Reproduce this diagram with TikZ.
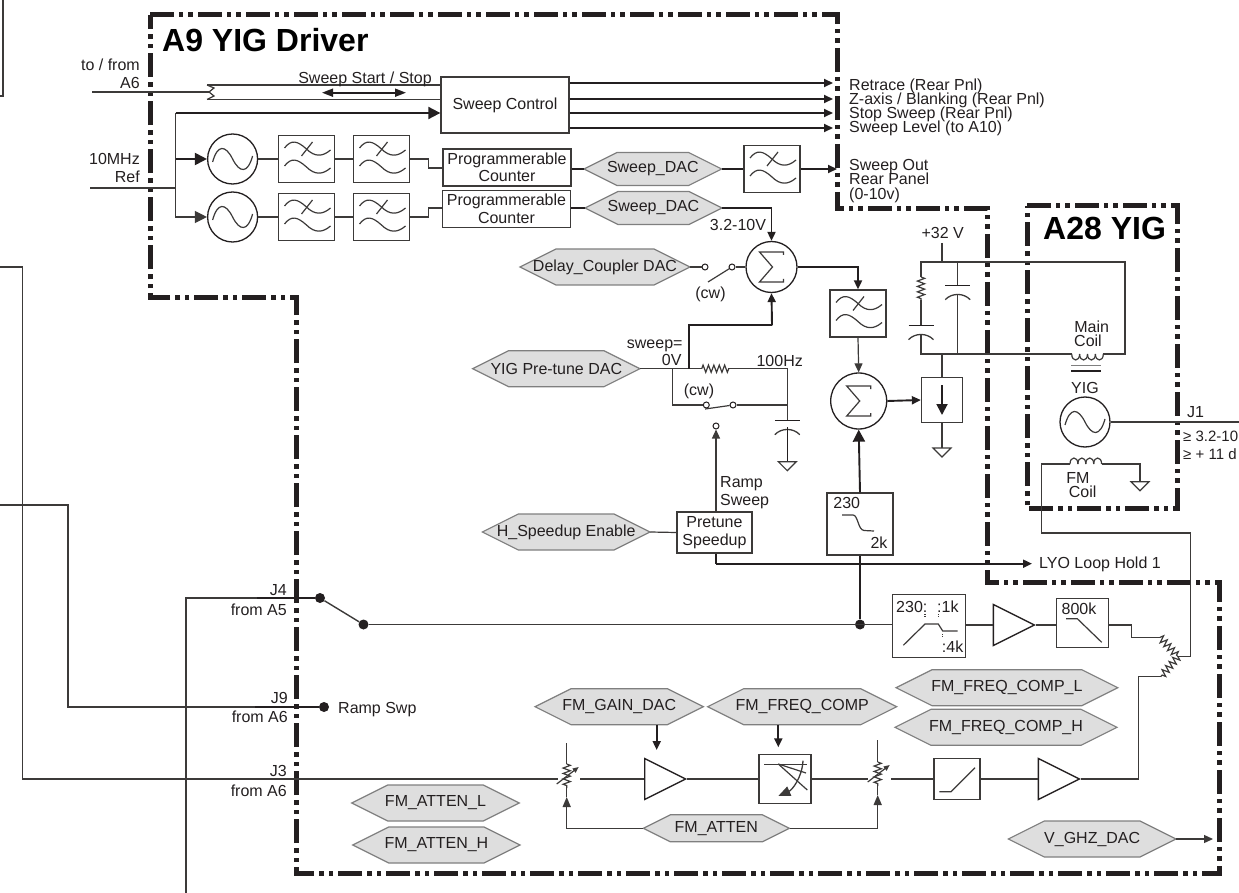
\documentclass[tikz,border=0pt]{standalone}
\usepackage{fontspec}
\setmainfont{Liberation Sans}
\usepackage{tikz}
\usetikzlibrary{arrows.meta}
\usetikzlibrary{shapes.geometric}
\usetikzlibrary{decorations.pathmorphing}
\definecolor{inkcol}{HTML}{231F20}
\definecolor{wirecol}{HTML}{3C3A39}
\definecolor{hexfill}{HTML}{DEDEDE}
\definecolor{hexline}{HTML}{7F7F7F}
\tikzset{
  wire/.style={draw=wirecol,line width=1.2pt},
  hvy/.style={draw=inkcol,line width=1.9pt},
  frame/.style={draw=inkcol,line width=5pt,line join=miter,dash pattern=on 24pt off 5pt on 4pt off 5pt on 5pt off 5pt},
  arr/.style={-{Triangle[length=9pt,width=8pt]}},
  bigarr/.style={-{Triangle[length=12pt,width=12pt]}},
  lbl/.style={inner sep=0pt,text height=11.5pt,text depth=0pt,text=inkcol,font=\fontsize{16}{18}\selectfont},
  title/.style={inner sep=0pt,text=black,font=\fontsize{32}{34}\bfseries\selectfont},
  blockbox/.style={draw=wirecol,line width=1.3pt,fill=white,inner sep=0pt,text=inkcol,align=center,font=\fontsize{16}{18}\selectfont},
  filtbox/.style={blockbox,minimum width=56pt,minimum height=47pt},
  roundblk/.style={circle,draw=inkcol,line width=1.3pt,fill=white,inner sep=0pt},
  hexshape/.style={draw=hexline,line width=1.2pt,fill=hexfill},
  hexlabel/.style={inner sep=0pt,text=inkcol,font=\fontsize{16}{18}\selectfont},
  amp/.style={isosceles triangle,isosceles triangle stretches,draw=inkcol,line width=1.3pt,fill=white,inner sep=0pt,minimum width=41pt,minimum height=41pt,anchor=lower side},
  tiny/.style={circle,draw=inkcol,line width=1pt,fill=white,inner sep=0pt,minimum size=6pt},
  blob/.style={circle,fill=inkcol,inner sep=0pt,minimum size=10pt},
  res/.style={decorate,decoration={zigzag,segment length=5.4pt,amplitude=3.6pt}},
  coilarc/.pic={\foreach \k in {0,1,2,3} \draw[wire] (\k*7.9,0) .. controls (\k*7.9,#1) and (\k*7.9+7.9,#1) .. (\k*7.9+7.9,0);},
  sinewave/.pic={\draw[wire] (-20,3) .. controls (-15,-15) and (-7,-14) .. (0,0) .. controls (7,14) and (15,15) .. (20,-3);},
  filtwave/.pic={
    \draw[wire] (-22,-11) .. controls (-15,-20) and (-9,-18) .. (0,-10) .. controls (8,-2) and (16,-2) .. (24,-9);
    \draw[wire] (-22,7) .. controls (-15,-2) and (-9,0) .. (0,8) .. controls (8,16) and (16,16) .. (24,9);
    \draw[wire] (-5,-3) -- (6,-17);},
  sigma/.pic={\draw[wire] (12,-12) -- (12,-15) -- (-12,-15) -- (1,0) -- (-12,15) -- (12,15) -- (12,12);},
  plate/.pic={
    \draw[hvy,line width=1.4pt] (-12.5,0) -- (12.5,0);
    \draw[wire,line width=1.3pt] (-12.5,14) .. controls (-6,7) and (6,7) .. (12.5,14);},
  trimpot/.pic={
    \draw[wire,res] (0,-12) -- (0,12);
    \draw[wire,-{Triangle[length=6pt,width=5pt]}] (-10,8) -- (12,-9);},
  earth/.pic={\draw[wire] (-9,0) -- (9,0) -- (0,9) -- cycle;}
}
\newcommand{\hexnode}[6]{%
  \filldraw[hexshape] (#2-#4/2,#3) -- (#2-#4/2+#5,#3-#5/2) -- (#2+#4/2-#5,#3-#5/2) -- (#2+#4/2,#3) -- (#2+#4/2-#5,#3+#5/2) -- (#2-#4/2+#5,#3+#5/2) -- cycle;
  \node[hexlabel,minimum width=#4pt,minimum height=#5pt] (#1) at (#2,#3) {#6};}
\begin{document}
\begin{tikzpicture}[x=1pt,y=-1pt]
\useasboundingbox (0,0) rectangle (1239,893);

\draw[frame] (150,15) -- (837,15) -- (837,209) -- (987,209) -- (987,582) -- (1219,582) -- (1219,873) -- (296,873) -- (296,297) -- (150,297) -- cycle;
\draw[frame] (1027,206) -- (1177,206) -- (1177,508) -- (1027,508) -- cycle;
\node[title,anchor=west] (tdriver) at (162,40) {A9 YIG Driver};
\node[title,anchor=west] (tyig) at (1043,228) {A28 YIG};

\draw[wire] (3,0) -- (3,96) -- (0,96);

\node[blockbox,minimum width=128pt,minimum height=56pt] (sweepctl) at (505,105) {Sweep Control};
\node[blockbox,minimum width=128pt,minimum height=37pt,font=\fontsize{16}{17.5}\selectfont] (counta) at (507,167.5) {Programmerable\\Counter};
\node[blockbox,minimum width=128pt,minimum height=37pt,font=\fontsize{16}{17.5}\selectfont] (countb) at (506.5,209) {Programmerable\\Counter};

\node[roundblk,minimum size=50pt] (osca) at (232.6,159) {};
\node[roundblk,minimum size=50pt] (oscb) at (232.6,217) {};
\node[filtbox] (filta) at (306.5,159) {};
\node[filtbox] (filtb) at (381.5,159) {};
\node[filtbox] (filtc) at (306.5,217) {};
\node[filtbox] (filtd) at (381.5,217) {};
\node[filtbox] (filte) at (772,169) {};
\node[filtbox] (filtf) at (858,313.5) {};
\foreach \nm in {osca,oscb} \pic at (\nm) {sinewave};
\foreach \nm in {filta,filtb,filtc,filtd,filte,filtf} \pic at (\nm) {filtwave};

\coordinate (busa) at (207,85);
\coordinate (busb) at (207,99.5);
\coordinate (busmid) at (209,92);
\coordinate (busin) at (92,92);
\coordinate (dbla) at (322,92.7);
\coordinate (dblb) at (406,92.7);
\draw[wire] (busa) -- (sweepctl.west |- busa);
\draw[wire] (busb) -- (sweepctl.west |- busb);
\draw[wire] (busa) -- (214,88) -- (busmid) -- (214,96) -- (busb);
\draw[wire] (busin) -- (busmid);
\draw[hvy,{Triangle[length=11pt,width=8pt]}-{Triangle[length=11pt,width=8pt]}] (dbla) -- (dblb);
\node[lbl] (lstart) at (365,78) {Sweep Start / Stop};
\node[lbl,anchor=east] (ltofrom) at (140,65) {to / from};
\node[lbl,anchor=east] (la6) at (140,83) {A6};
\node[lbl,anchor=east] (lten) at (140,159) {10MHz};
\node[lbl,anchor=east] (lref) at (140,177) {Ref};

\coordinate (refin) at (90,188);
\coordinate (refjn) at (175.5,188);
\coordinate (toptap) at (175.5,113);
\draw[wire] (refin) -- (refjn);
\draw[hvy,bigarr] (toptap) -- (sweepctl.west |- toptap);
\draw[wire,bigarr] (toptap) |- (oscb.west);
\draw[hvy,bigarr] (refjn |- osca) -- (osca.west);
\draw[wire] (osca) -- (filta);
\draw[wire] (filta) -- (filtb);
\draw[wire] (oscb) -- (filtc);
\draw[wire] (filtc) -- (filtd);
\draw[wire] (filtb.east) -- ++(18,0) |- (counta.west |- 0,168);
\draw[wire] (filtd.east) -- ++(18,0) |- (countb.west |- 0,208);

\coordinate (outa) at (833,83);
\coordinate (outb) at (833,99);
\coordinate (outc) at (833,113);
\coordinate (outd) at (833,128);
\foreach \nm in {outa,outb,outc,outd} \draw[hvy,arr] (sweepctl.east |- \nm) -- (\nm);
\node[lbl,anchor=west] (lretrace) at (849,85) {Retrace (Rear Pnl)};
\node[lbl,anchor=west] (lzaxis) at (849,99) {Z-axis / Blanking (Rear Pnl)};
\node[lbl,anchor=west] (lstop) at (849,113) {Stop Sweep (Rear Pnl)};
\node[lbl,anchor=west] (llevel) at (849,127) {Sweep Level (to A10)};
\node[lbl,anchor=west] (lsout) at (849,165) {Sweep Out};
\node[lbl,anchor=west] (lrear) at (849,179) {Rear Panel};
\node[lbl,anchor=west] (lrange) at (849,194) {(0-10v)};

\hexnode{dacone}{652.8}{169}{137.6}{33}{Sweep\_DAC}
\hexnode{dactwo}{653.5}{208}{137}{33}{Sweep\_DAC}
\hexnode{delay}{605}{267}{170}{36}{Delay\_Coupler DAC}
\hexnode{pretune}{556.3}{368.7}{167.3}{36}{YIG Pre-tune DAC}
\hexnode{speedup}{566.2}{532}{167.7}{36}{H\_Speedup Enable}
\hexnode{fmgain}{619.2}{706.7}{168.3}{36}{FM\_GAIN\_DAC}
\hexnode{fmcomp}{802.2}{706.7}{189}{36}{FM\_FREQ\_COMP}
\hexnode{compl}{1006.9}{687.7}{221.7}{36}{FM\_FREQ\_COMP\_L}
\hexnode{comph}{1006}{727.3}{222}{36}{FM\_FREQ\_COMP\_H}
\hexnode{vghz}{1092.2}{839}{167.7}{36}{V\_GHZ\_DAC}
\hexnode{fmatten}{716.3}{828.3}{146}{27}{FM\_ATTEN}
\hexnode{attenl}{435.5}{803}{167.6}{36}{FM\_ATTEN\_L}
\hexnode{attenh}{436.4}{845}{167.3}{36}{FM\_ATTEN\_H}

\draw[hvy] (counta.east |- dacone) -- (dacone.west);
\draw[hvy] (countb.east |- dactwo) -- (dactwo.west);
\draw[hvy] (dacone.east) -- (filte.west);
\coordinate (sweepout) at (837,169);
\draw[hvy,arr] (filte.east) -- (sweepout);

\node[roundblk,minimum size=51pt] (suma) at (771.5,267) {};
\node[roundblk,minimum size=56pt] (sumb) at (858.7,401) {};
\foreach \nm in {suma,sumb} \pic at (\nm) {sigma};
\draw[hvy,arr] (dactwo.east) -| (suma.north);
\node[lbl] (lvolt) at (738,225) {3.2-10V};

\node[tiny] (swa) at (705,267) {};
\node[tiny] (swb) at (732,267) {};
\coordinate (swarm) at (708,282);
\draw[wire] (delay.east) -- (swa);
\draw[wire] (swb) -- (suma.west);
\draw[wire] (swb) -- (swarm);
\node[lbl] (lcwa) at (710.5,293) {(cw)};
\draw[hvy,arr] (suma.east) -| (filtf.north);
\draw[wire,arr] (filtf.south) -- (sumb.north);

\coordinate (splitpt) at (672.7,368.7);
\coordinate (uptap) at (688.7,368.7);
\coordinate (upbend) at (772,325.3);
\coordinate (resl) at (701.7,368.7);
\coordinate (resr) at (729.3,368.7);
\coordinate (corner) at (787.3,368.7);
\coordinate (capc) at (787.3,420.7);
\coordinate (capcb) at (787.3,427);
\coordinate (gndc) at (787.3,461.7);
\coordinate (lowrow) at (787.3,405);
\node[tiny] (swc) at (706.3,405) {};
\node[tiny] (swd) at (733,405) {};
\coordinate (swcarm) at (705,409);
\draw[wire] (pretune.east) -- (resl);
\draw[wire,res] (resl) -- (resr);
\draw[wire] (resr) -- (corner) -- (capc);
\draw[wire] (splitpt) |- (swc);
\draw[wire] (swd) -- (lowrow);
\draw[wire] (swcarm) -- (swd);
\draw[hvy] (uptap) |- (upbend);
\draw[hvy,arr] (upbend) -- (suma.south);
\pic at (capc) {plate};
\draw[hvy,line width=1.5pt] (capcb) -- (gndc);
\pic at (gndc) {earth};
\node[lbl,anchor=east] (lsweepeq) at (682.7,342.3) {sweep=};
\node[lbl,anchor=east] (lzero) at (681.7,360) {0V};
\node[lbl] (lhund) at (779.7,361) {100Hz};
\node[lbl] (lcwb) at (699,390) {(cw)};

\node[blockbox,minimum width=75pt,minimum height=41pt,font=\fontsize{16}{18}\selectfont] (pspeed) at (714.5,532.5) {Pretune\\Speedup};
\node[tiny] (swe) at (716,426) {};
\coordinate (rampbase) at (716,512);
\coordinate (lyotip) at (1032,563.7);
\coordinate (lyobend) at (716,563.7);
\draw[wire,arr] (rampbase) -- (swe.south);
\draw[wire] (speedup.east) -- (pspeed.west);
\node[lbl,anchor=west] (lramp) at (720,481.7) {Ramp};
\node[lbl,anchor=west] (lsweep) at (720,500) {Sweep};
\draw[hvy] (lyobend |- pspeed.south) -- (lyobend);
\draw[hvy,arr] (lyobend) -- (lyotip);
\node[lbl,anchor=west] (llyo) at (1039,563) {LYO Loop Hold 1};

\node[blockbox,minimum width=66pt,minimum height=62pt] (lagbox) at (860,524) {};
\node[lbl] (llaga) at (846.7,503) {230};
\node[lbl] (llagb) at (879,543) {2k};
\draw[wire] (842,515) -- (853,515) .. controls (858,515) and (858,530) .. (864,530.5) -- (874,531);
\node[blob] (bloba) at (860,624.5) {};
\draw[hvy,bigarr] (lagbox.north) -- (sumb.south);
\draw[hvy] (lagbox.south) -- (bloba);

\node[blockbox,minimum width=41pt,minimum height=45pt] (holdbox) at (942,400) {};
\draw[hvy,-{Triangle[length=11pt,width=11pt]}] (942,385) -- (942,415);
\coordinate (gndd) at (942,448);
\draw[hvy,arr] (sumb.east) -- (holdbox.west);
\draw[wire] (holdbox.south) -- (gndd);
\pic at (gndd) {earth};

\coordinate (vplus) at (942,243);
\coordinate (railtap) at (942,262);
\coordinate (raill) at (921,262);
\coordinate (railb) at (957.7,262);
\coordinate (railr) at (1125,262);
\coordinate (botr) at (1125,354);
\coordinate (botl) at (921,354);
\coordinate (botb) at (957.7,354);
\coordinate (botm) at (942,354);
\coordinate (resa) at (921,277);
\coordinate (resb) at (921,300);
\coordinate (capa) at (921,325.7);
\coordinate (capab) at (921,334);
\coordinate (capbb) at (957.7,285.7);
\coordinate (capbc) at (957.7,294);
\coordinate (coilal) at (1071.7,354);
\coordinate (coilar) at (1103.3,354);
\node[lbl] (lthirty) at (942.7,233) {+32 V};
\draw[wire] (vplus) -- (railtap);
\draw[wire] (resa) -- (raill) -- (railr) -- (botr) -- (coilar);
\draw[wire,res] (resa) -- (resb);
\draw[wire] (resb) -- (capa);
\pic at (capa) {plate};
\draw[wire] (capab) -- (botl) -- (coilal);
\draw[wire] (railb) -- (capbb);
\pic at (capbb) {plate};
\draw[wire] (capbc) -- (botb);
\draw[wire] (botm) -- (holdbox.north);
\pic at (coilal) {coilarc=8};
\draw[wire,line width=1pt,draw=hexline] (1071,365.7) -- (1101,365.7);
\draw[hvy] (1071,370.7) -- (1101,370.7);
\node[lbl] (lmain) at (1091.7,326.7) {Main};
\node[lbl] (lcoila) at (1088,340.7) {Coil};

\node[lbl] (lyig) at (1085,388) {YIG};
\node[roundblk,minimum size=50pt] (oscc) at (1085,422) {};
\pic at (oscc) {sinewave};
\coordinate (jout) at (1239,422);
\draw[wire] (oscc.east) -- (jout);
\node[lbl,anchor=west] (ljone) at (1187,411.7) {J1};
\node[lbl,anchor=west,font=\fontsize{15}{17}\selectfont] (lghz) at (1183,436) {≥ 3.2-10};
\node[lbl,anchor=west,font=\fontsize{15}{17}\selectfont] (ldbm) at (1183,454) {≥ + 11 d};

\coordinate (fmcl) at (1070,464);
\coordinate (fmcr) at (1101.6,464);
\coordinate (fmgnd) at (1140,481.7);
\coordinate (fmdrop) at (1041.7,533);
\coordinate (fmside) at (1190.7,533);
\coordinate (sumpt) at (1178,656.7);
\coordinate (sumout) at (1190.7,656.7);
\coordinate (resua) at (1160,637.3);
\coordinate (resub) at (1160.7,676.7);
\pic at (fmcl) {coilarc=-8};
\draw[wire] (fmcl) -| (fmdrop) -- (fmside) -- (sumout) -- (sumpt);
\draw[wire] (fmcr) -| (fmgnd);
\pic at (fmgnd) {earth};
\node[lbl] (lfm) at (1078,478) {FM};
\node[lbl] (lcoilb) at (1082.7,492) {Coil};

\coordinate (jfour) at (186,598);
\coordinate (jfourb) at (186,893);
\coordinate (jfourt) at (257,598);
\node[blob] (blobb) at (320,598) {};
\node[blob] (blobc) at (363.5,624.5) {};
\draw[wire] (jfourb) -- (jfour) -- (jfourt);
\draw[hvy] (jfourt) -- (blobb);
\draw[wire,line width=1.4pt] (blobb) -- (blobc);
\node[lbl,anchor=east] (ljfour) at (287,590) {J4};
\node[lbl,anchor=east] (lafive) at (287,610) {from A5};

\coordinate (jnin) at (0,505);
\coordinate (jnbend) at (68,505);
\coordinate (jnrow) at (68,707);
\coordinate (jnthk) at (255,707);
\node[blob] (blobd) at (324,707) {};
\draw[wire] (jnin) -- (jnbend) -- (jnrow) -- (jnthk);
\draw[hvy] (jnthk) -- (blobd);
\node[lbl,anchor=east] (ljnine) at (288,698) {J9};
\node[lbl,anchor=east] (lasix) at (288,717) {from A6};
\node[lbl,anchor=west] (lswp) at (338,707.7) {Ramp Swp};

\coordinate (jtin) at (0,267);
\coordinate (jtbend) at (22.7,267);
\coordinate (jtrow) at (22.7,779);
\node[lbl,anchor=east] (ljthree) at (287,771) {J3};
\node[lbl,anchor=east] (lasixb) at (287,791) {from A6};

\node[blockbox,minimum width=73pt,minimum height=63pt] (bodebox) at (929,626) {};
\node[lbl,anchor=west] (lbodea) at (896,606.7) {230:};
\node[lbl,anchor=west] (lbodeb) at (937,606.7) {:1k};
\node[lbl,anchor=west] (lbodec) at (941.7,646.7) {:4k};
\draw[wire] (903.3,645.3) -- (925,624) -- (938.3,624) -- (942.7,631) -- (957.7,631);
\draw[wire,densely dotted] (925,614) -- (925,618);
\draw[wire,densely dotted] (938.3,614) -- (938.3,618);
\draw[wire,densely dotted] (942.7,634) -- (942.7,638);
\node[amp] (ampa) at (992.7,625) {};
\node[blockbox,minimum width=52pt,minimum height=49pt] (lowbox) at (1082.7,623) {};
\node[lbl] (lbig) at (1079,609) {800k};
\draw[wire] (1066,618.7) -- (1077.3,618.7) -- (1101.7,642.3);
\coordinate (lowtee) at (1131.7,625);
\draw[wire] (blobc) -- (bodebox.west |- blobc);
\draw[wire] (bodebox.east |- ampa.lower side) -- (ampa.lower side);
\draw[wire] (ampa.apex) -- (lowbox.west |- ampa.apex);
\draw[wire] (lowbox.east |- lowtee) -- (lowtee) |- (resua);
\draw[wire,res] (resua) -- (sumpt);
\draw[wire,res] (sumpt) -- (resub);

\coordinate (pota) at (566.7,776);
\coordinate (potb) at (877.7,774);
\node[amp] (ampb) at (644,779) {};
\node[blockbox,minimum width=52pt,minimum height=49pt] (eqbox) at (785,778.7) {};
\draw[wire] (764,764.3) -- (806.7,764.3);
\draw[wire] (778.3,764) -- (807.3,790);
\draw[wire] (778.3,764) -- (806,773);
\draw[wire,line width=1.3pt,-{Triangle[length=12pt,width=10pt]}] (803,760.7) .. controls (802,778) and (792,790) .. (778.3,796);
\node[blockbox,minimum width=46pt,minimum height=40.5pt] (limbox) at (957,779) {};
\draw[wire] (939.3,791.7) -- (951,791.7) -- (975,767.7);
\node[amp] (ampc) at (1037.7,779) {};
\coordinate (pawest) at (558,779);
\coordinate (paeast) at (580,779);
\coordinate (pbwest) at (868,779);
\coordinate (pbeast) at (891,779);
\coordinate (patop) at (566.7,743.3);
\coordinate (pbtop) at (877.7,740);
\coordinate (ampout) at (1138.3,779);
\draw[wire] (jtin) -- (jtbend) -- (jtrow) -- (pawest);
\draw[wire] (paeast) -- (ampb.lower side);
\draw[wire] (ampb.apex) -- (eqbox.west |- ampb.apex);
\draw[wire] (eqbox.east |- pbwest) -- (pbwest);
\draw[wire] (pbeast) -- (limbox.west);
\draw[wire] (limbox.east) -- (ampc.lower side);
\draw[wire] (ampc.apex) -- (ampout) |- (resub);
\pic at (pota) {trimpot};
\pic at (potb) {trimpot};
\draw[wire] (patop) -- (566.7,764);
\draw[wire] (pbtop) -- (877.7,762);
\draw[wire] (566.7,788) -- (566.7,797);
\draw[wire] (877.7,786) -- (877.7,795);
\draw[hvy,arr] (fmgain.south -| 656.7,0) -- (656.7,750);
\draw[hvy,arr] (fmcomp.south -| 778.3,0) -- (778.3,747.3);
\draw[wire,line width=1.4pt,{Triangle[length=10pt,width=8pt]}-] (566.7,797) |- (fmatten.west);
\draw[wire,line width=1.4pt,{Triangle[length=10pt,width=8pt]}-] (877.7,795) |- (fmatten.east);
\coordinate (vghzend) at (1213,839);
\draw[wire,arr] (vghz.east) -- (vghzend);

\end{tikzpicture}
\end{document}
